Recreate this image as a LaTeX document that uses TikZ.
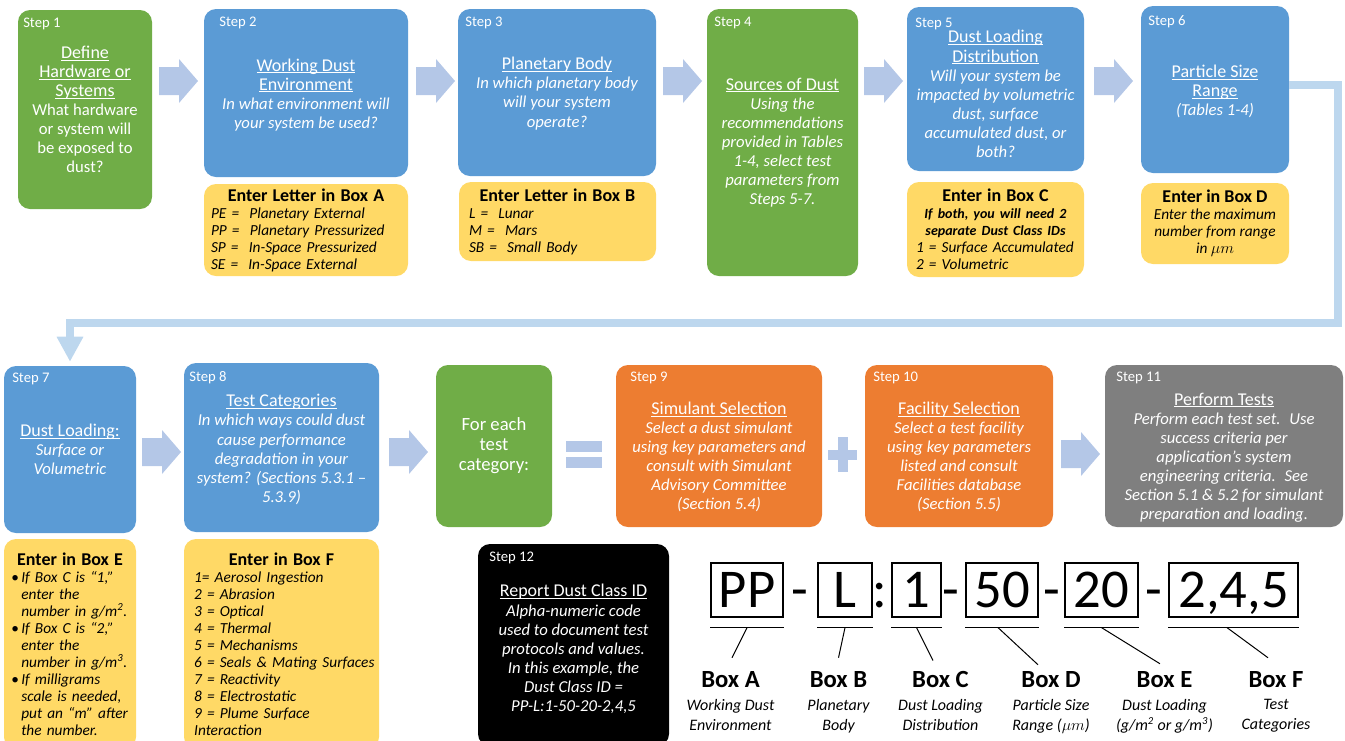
\documentclass[tikz,border=0pt]{standalone}
\usepackage{fontspec}
\setmainfont{Carlito}
\usetikzlibrary{arrows.meta, positioning}

\definecolor{stepgreen}{HTML}{70AD47}
\definecolor{stepblue}{HTML}{5B9BD5}
\definecolor{steporange}{HTML}{ED7D31}
\definecolor{stepgray}{HTML}{7F7F7F}
\definecolor{entryyellow}{HTML}{FFD966}
\definecolor{flowblue}{HTML}{B4C7E7}
\definecolor{linkblue}{HTML}{BDD7EE}

\newsavebox{\ttlbox}
\newcommand{\ttl}[1]{\sbox{\ttlbox}{\fontsize{13.5}{14.3}\selectfont\upshape #1}%
  \rlap{\rule[-1.6pt]{\wd\ttlbox}{0.6pt}}\usebox{\ttlbox}}
\newcommand{\entryhead}{\fontsize{13.5}{15}\selectfont\bfseries\upshape}
\newcommand{\bul}{\makebox[7.5pt][l]{\upshape\textbullet}}
\newcommand{\ind}{\hspace*{7.5pt}}

\begin{document}
\begin{tikzpicture}[
    x=0.75pt, y=-0.75pt,
    spans/.style args={#1/#2/#3/#4}{at={({(#1+#3)/2},{(#2+#4)/2})},
      minimum width={(#3-#1)*0.75pt}, minimum height={(#4-#2)*0.75pt}},
    panel/.style={rounded corners=9pt, inner sep=0pt},
    steplbl/.style={anchor=base west, inner sep=0pt, text=white, font=\fontsize{11}{13}\selectfont},
    bodytxt/.style={align=center, inner sep=0pt, text=white, font=\fontsize{12.5}{14.3}\selectfont\itshape},
    uptxt/.style={bodytxt, font=\fontsize{12.5}{14.3}\selectfont},
    entry/.style={panel, fill=entryyellow, text width=#1, align=left, font=\fontsize{11.5}{12.75}\selectfont\itshape},
    idbox/.style={draw, line width=0.9pt, inner sep=0pt, font=\fontsize{41}{41}\selectfont, text height=26.4pt, text depth=0pt},
    idsep/.style={inner sep=0pt, font=\fontsize{41}{41}\selectfont, text height=26.4pt, text depth=0pt},
    idlbl/.style={anchor=base, inner sep=0pt, font=\fontsize{18.5}{20}\selectfont\bfseries},
    idcap/.style={align=center, inner sep=0pt, font=\fontsize{12}{15}\selectfont\itshape},
    link/.style={draw=linkblue, line width=6pt, -{Triangle[width=18.75pt, length=18.75pt]}},
    uline/.style={line width=1pt},
    ptr/.style={line width=0.75pt},
    flowarrow/.pic={\fill[flowblue] (0,-14) -- (20,-14) -- (20,-22) -- (39,0)
      -- (20,22) -- (20,14) -- (0,14) -- cycle;}
]
\useasboundingbox (0,0) rectangle (1345,740);

% Step 1
\node[panel, fill=stepgreen, spans=18/10/152/209] (s1) {};
\node[steplbl] (l1) at (23,27) {Step 1};
\node[uptxt] (s1t) at (s1) {\ttl{Define}\\\ttl{Hardware or}\\\ttl{Systems}\\What hardware\\or system will\\be exposed to\\dust?};

% Step 2 and Box A
\node[panel, fill=stepblue, spans=204/9/408/177] (s2) {};
\node[steplbl] (l2) at (219,26) {Step 2};
\node[bodytxt, yshift=-1.3pt] (s2t) at (s2) {\ttl{Working Dust}\\\ttl{Environment}\\In what environment will\\your system be used?};
\node[entry=142.5pt, spans=204/184/408/276] (eA) {\makebox[\linewidth]{\entryhead Enter Letter in Box A}\\PE =\ \ Planetary External\\PP =\ \ Planetary Pressurized\\SP =\ \ In-Space Pressurized\\SE =\ \ In-Space External};

% Step 3 and Box B
\node[panel, fill=stepblue, spans=458/9/656/176] (s3) {};
\node[steplbl] (l3) at (465,26) {Step 3};
\node[bodytxt, yshift=-0.75pt] (s3t) at (s3) {\ttl{Planetary Body}\\In which planetary body\\will your system\\operate?};
\node[entry=132.75pt, spans=459/182/656/261] (eB) {\makebox[\linewidth]{\entryhead Enter Letter in Box B}\\L =\ \ Lunar\\M =\ \ Mars\\SB =\ \ Small Body};

% Step 4
\node[panel, fill=stepgreen, spans=707/9/858/276] (s4) {};
\node[steplbl] (l4) at (714,26) {Step 4};
\node[bodytxt] (s4t) at (s4) {\ttl{Sources of Dust}\\Using the\\recommendations\\provided in Tables\\1-4, select test\\parameters from\\Steps 5-7.};

% Step 5 and Box C
\node[panel, fill=stepblue, spans=907/7/1084/171] (s5) {};
\node[steplbl] (l5) at (915,27) {Step 5};
\node[bodytxt, yshift=-3.75pt] (s5t) at (s5) {\ttl{Dust Loading}\\\ttl{Distribution}\\Will your system be\\impacted by volumetric\\dust, surface\\accumulated dust, or\\both?};
\node[entry=119.25pt, spans=907/182/1084/277] (eC) {\makebox[\linewidth]{\entryhead Enter in Box C}\\\makebox[\linewidth]{\fontsize{10.5}{12}\selectfont\bfseries If both, you will need 2}\\\makebox[\linewidth]{\fontsize{10.5}{12}\selectfont\bfseries separate Dust Class IDs}\\1 = Surface Accumulated\\2 = Volumetric};

% Step 6 and Box D
\node[panel, fill=stepblue, spans=1141/6/1289/173] (s6) {};
\node[steplbl] (l6) at (1148,25) {Step 6};
\node[bodytxt, yshift=-1.5pt] (s6t) at (s6) {\ttl{Particle Size}\\\ttl{Range}\\(Tables 1-4)};
\node[panel, fill=entryyellow, align=center, font=\fontsize{11.5}{12.75}\selectfont\itshape, spans=1141/183/1289/264] (eD) {{\entryhead Enter in Box D}\\Enter the maximum\\number from range\\in $\mu m$};

% Arrows of the first row
\pic at (159,81) {flowarrow};
\pic at (416,81) {flowarrow};
\pic at (663,81) {flowarrow};
\pic at (864,81) {flowarrow};
\pic at (1094,81) {flowarrow};

% Step 7 and Box E
\node[panel, fill=stepblue, spans=4/366/136/533] (s7) {};
\node[steplbl] (l7) at (12,382) {Step 7};
\node[bodytxt] (s7t) at (s7) {\ttl{Dust Loading:}\\Surface or\\Volumetric};
\node[entry=88pt, spans=4/539/136/749] (eE) {\makebox[\linewidth]{\entryhead Enter in Box E}\\
  \bul If Box C is “1,”\\\ind enter the\\\ind number in g/m\textsuperscript{2}.\\
  \bul If Box C is “2,”\\\ind enter the\\\ind number in g/m\textsuperscript{3}.\\
  \bul If milligrams\\\ind scale is needed,\\\ind put an “m” after\\\ind the number.};

% Link from the first row to the second row
\draw[link] ([yshift=3.4pt]s6.east) -| (1338,323) -| ([yshift=3pt]s7.north);

% Step 8 and Box F
\node[panel, fill=stepblue, spans=184/363/379/532] (s8) {};
\node[steplbl] (l8) at (189,381) {Step 8};
\node[bodytxt, yshift=-1.5pt] (s8t) at (s8) {\ttl{Test Categories}\\In which ways could dust\\cause performance\\degradation in your\\system? (Sections 5.3.1 –\\5.3.9)};
\node[entry=131pt, spans=184/539/379/749] (eF) {\makebox[\linewidth]{\entryhead Enter in Box F}\\
  1= Aerosol Ingestion\\2 = Abrasion\\3 = Optical\\4 = Thermal\\5 = Mechanisms\\
  \mbox{6 = Seals \& Mating Surfaces}\\7 = Reactivity\\8 = Electrostatic\\9 = Plume Surface\\Interaction};

% For each test category
\node[panel, fill=stepgreen, spans=436/365/552/527] (each) {};
\node[uptxt, font=\fontsize{14}{15}\selectfont] (eacht) at (each) {For each\\test\\category:};

% Equals and plus
\fill[flowblue] (566,441) rectangle (602,452);
\fill[flowblue] (566,457) rectangle (602,468);
\fill[flowblue] (828,450) rectangle (857,460);
\fill[flowblue] (838,437) rectangle (848,472);

% Step 9
\node[panel, fill=steporange, spans=616/365/822/527] (s9) {};
\node[steplbl] (l9) at (630,381) {Step 9};
\node[bodytxt, yshift=-8.25pt] (s9t) at (s9) {\ttl{Simulant Selection}\\Select a dust simulant\\using key parameters and\\consult with Simulant\\Advisory Committee\\(Section 5.4)};

% Step 10
\node[panel, fill=steporange, spans=865/365/1053/527] (s10) {};
\node[steplbl] (l10) at (873,381) {Step 10};
\node[bodytxt, yshift=-8.25pt] (s10t) at (s10) {\ttl{Facility Selection}\\Select a test facility\\using key parameters\\listed and consult\\Facilities database\\(Section 5.5)};

% Step 11
\node[panel, fill=stepgray, spans=1105/365/1343/527] (s11) {};
\node[steplbl] (l11) at (1116,381) {Step 11};
\node[bodytxt, yshift=-8.6pt] (s11t) at (s11) {\ttl{Perform Tests}\\Perform each test set.~ Use\\success criteria per\\application’s system\\engineering criteria.~ See\\Section 5.1 \& 5.2 for simulant\\preparation and loading.};

% Arrows of the second row
\pic at (142,452) {flowarrow};
\pic at (389,452) {flowarrow};
\pic at (1061,454) {flowarrow};

% Step 12
\node[panel, fill=black, spans=478/544/669/746] (s12) {};
\node[steplbl] (l12) at (489,561) {Step 12};
\node[bodytxt, yshift=-3pt] (s12t) at (s12) {\ttl{Report Dust Class ID}\\Alpha-numeric code\\used to document test\\protocols and values.\\In this example, the\\Dust Class ID =\\PP-L:1-50-20-2,4,5};

% Dust Class ID
\node[idbox, spans=711/563/783/617] (cA) {PP};
\node[idsep] (d1) at (800,590) {-};
\node[idbox, spans=818/563/872/617] (cB) {L};
\node[idsep] (d2) at (880,590) {:};
\node[idbox, spans=892/563/941/617] (cC) {1};
\node[idsep] (d3) at (951,590) {-};
\node[idbox, spans=966/563/1038/617] (cD) {50};
\node[idsep] (d4) at (1052,590) {-};
\node[idbox, spans=1065/563/1138/617] (cE) {20};
\node[idsep] (d5) at (1154,590) {-};
\node[idbox, spans=1169/563/1298/617] (cF) {2,4,5};

\draw[uline] ([yshift=-7.5pt]cA.south west) -- ([yshift=-7.5pt]cA.south east);
\draw[uline] ([yshift=-7.5pt]cB.south west) -- ([yshift=-7.5pt]cB.south east);
\draw[uline] ([yshift=-7.5pt]cC.south west) -- ([yshift=-7.5pt]cC.south east);
\draw[uline] ([yshift=-7.5pt]cD.south west) -- ([yshift=-7.5pt]cD.south east);
\draw[uline] ([yshift=-7.5pt]cE.south west) -- ([yshift=-7.5pt]cE.south east);
\draw[uline] ([yshift=-7.5pt]cF.south west) -- ([yshift=-7.5pt]cF.south east);

% Box labels
\node[idlbl] (bA) at (730.5,687) {Box A};
\node[idcap, below=8.5pt of bA] (capA) {Working Dust\\Environment};
\node[idlbl] (bB) at (838.5,687) {Box B};
\node[idcap, below=8.5pt of bB] (capB) {Planetary\\Body};
\node[idlbl] (bC) at (940.5,687) {Box C};
\node[idcap, below=8.5pt of bC] (capC) {Dust Loading\\Distribution};
\node[idlbl] (bD) at (1051,687) {Box D};
\node[idcap, below=8.5pt of bD] (capD) {Particle Size\\Range ($\mu m$)};
\node[idlbl] (bE) at (1164.5,687) {Box E};
\node[idcap, below=8.5pt of bE] (capE) {Dust Loading\\(g/m\textsuperscript{2} or g/m\textsuperscript{3})};
\node[idlbl] (bF) at (1276,687) {Box F};
\node[idcap, below=8.5pt of bF] (capF) {Test\\Categories};

\draw[ptr] ([yshift=-7.5pt]cA.south) -- ([xshift=1.1pt, yshift=9.75pt]bA.north);
\draw[ptr] ([yshift=-7.5pt]cB.south) -- ([yshift=9.75pt]bB.north);
\draw[ptr] ([yshift=-7.5pt]cC.south) -- ([xshift=-5.6pt, yshift=7.5pt]bC.north);
\draw[ptr] ([xshift=-3pt, yshift=-7.5pt]cD.south) -- ([xshift=-9.75pt, yshift=4.5pt]bD.north);
\draw[ptr] ([yshift=-7.5pt]cE.south) -- ([xshift=-3.4pt, yshift=5.25pt]bE.north);
\draw[ptr] ([xshift=-4.9pt, yshift=-7.5pt]cF.south) -- ([xshift=-6pt, yshift=9.75pt]bF.north);

\end{tikzpicture}
\end{document}
